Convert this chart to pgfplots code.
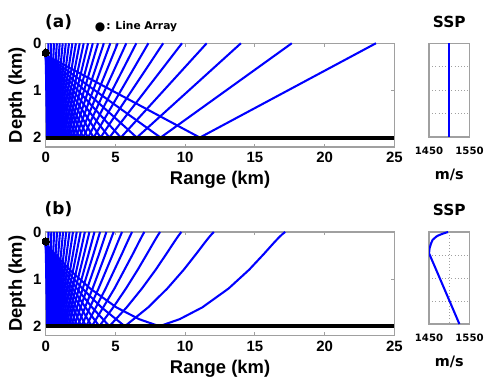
\documentclass[border=0pt]{standalone}
\usepackage{fontspec}
\setmainfont{Liberation Sans}
\newfontfamily\dv{DejaVu Sans}
\usepackage{pgfplots}
\pgfplotsset{compat=1.18}
\definecolor{axgray}{RGB}{160,160,160}
\definecolor{rayblue}{RGB}{0,0,255}
\pgfplotsset{
 ray/.style={rayblue, solid, mark=none, line width=1.55pt, line join=round},
 mainax/.style={scale only axis, width=261.5pt, xmin=0, xmax=25, ymin=0, ymax=2.2, y dir=reverse,
  xtick={0,5,10,15,20,25}, ytick={0,1,2},
  axis line style={axgray, line width=0.9pt}, tick style={axgray, line width=0.7pt},
  major tick length=2.5pt, tick align=inside,
  /pgf/number format/assume math mode=true,
  ticklabel style={font=\fontsize{11.2}{13}\selectfont\bfseries, inner sep=0pt},
  xticklabel style={anchor=north, yshift=-3.75pt},
  yticklabel style={anchor=east, xshift=-3pt},
  xlabel={Range (km)}, ylabel={Depth (km)},
  label style={font=\fontsize{13.8}{16}\selectfont\bfseries, inner sep=0pt},
  xlabel style={at={(axis description cs:0.5,-0.235)}, anchor=north},
  ylabel style={at={(axis description cs:-0.082,0.5)}, anchor=center},
  clip=false,
 },
 sspax/.style={scale only axis, width=30.4pt, xmin=1450, xmax=1550, ymin=0, ymax=2, y dir=reverse,
  xtick={1450,1500,1550}, xticklabels={1450,,1550}, ytick={0.5,1,1.5}, yticklabels={},
  grid=major, grid style={axgray, dotted, line width=0.5pt}, major tick length=0pt,
  axis line style={axgray, line width=0.9pt},
  xticklabel style={font=\dv\bfseries\fontsize{7.6}{9}\selectfont, inner sep=0pt, anchor=north, yshift=-7.2pt},
  title={SSP}, title style={at={(axis description cs:0.5,1)}, anchor=south, yshift=5.8pt, inner sep=0pt, font=\dv\bfseries\fontsize{11.5}{13}\selectfont},
  xlabel={m/s}, xlabel style={at={(axis description cs:0.5,0)}, anchor=north, yshift=-23.8pt, inner sep=0pt, font=\dv\bfseries\fontsize{10.8}{12}\selectfont},
 }
}
\begin{document}
\begin{tikzpicture}
\useasboundingbox (0,0) rectangle (363pt,285.75pt);
% ---------------- (a) isovelocity ----------------
\begin{axis}[mainax, height=77.8pt, at={(34.3pt,175.5pt)}, anchor=south west]
\addplot[ray] coordinates {(0,0.25)(11.049,2)(23.677,0)};
\addplot[ray] coordinates {(0,0.25)(8.233,2)(17.642,0)};
\addplot[ray] coordinates {(0,0.25)(6.531,2)(13.995,0)};
\addplot[ray] coordinates {(0,0.25)(5.386,2)(11.541,0)};
\addplot[ray] coordinates {(0,0.25)(4.559,2)(9.769,0)};
\addplot[ray] coordinates {(0,0.25)(3.931,2)(8.423,0)};
\addplot[ray] coordinates {(0,0.25)(3.435,2)(7.360,0)};
\addplot[ray] coordinates {(0,0.25)(3.031,2)(6.495,0)};
\addplot[ray] coordinates {(0,0.25)(2.695,2)(5.775,0)};
\addplot[ray] coordinates {(0,0.25)(2.409,2)(5.161,0)};
\addplot[ray] coordinates {(0,0.25)(2.161,2)(4.631,0)};
\addplot[ray] coordinates {(0,0.25)(1.944,2)(4.165,0)};
\addplot[ray] coordinates {(0,0.25)(1.750,2)(3.750,0)};
\addplot[ray] coordinates {(0,0.25)(1.576,2)(3.376,0)};
\addplot[ray] coordinates {(0,0.25)(1.417,2)(3.037,0)};
\addplot[ray] coordinates {(0,0.25)(1.271,2)(2.724,0)};
\addplot[ray] coordinates {(0,0.25)(1.136,2)(2.435,0)};
\addplot[ray] coordinates {(0,0.25)(1.010,2)(2.165,0)};
\addplot[ray] coordinates {(0,0.25)(0.892,2)(1.911,0)};
\addplot[ray] coordinates {(0,0.25)(0.779,2)(1.670,0)};
\addplot[ray] coordinates {(0,0.25)(0.672,2)(1.440,0)};
\addplot[ray] coordinates {(0,0.25)(0.569,2)(1.218,0)};
\addplot[ray] coordinates {(0,0.25)(0.469,2)(1.005,0)};
\addplot[ray] coordinates {(0,0.25)(0.372,2)(0.797,0)};
\addplot[ray] coordinates {(0,0.25)(0.277,2)(0.594,0)};
\addplot[ray] coordinates {(0,0.25)(0.184,2)(0.394,0)};
\addplot[ray] coordinates {(0,0.25)(0.092,2)(0.197,0)};
\addplot[black, line width=3pt] coordinates {(0,2)(25,2)};
\addplot[black, only marks, mark=*, mark size=2.8pt, line width=0pt] coordinates {(0,0.2)};
\end{axis}
\begin{axis}[sspax, height=70.3pt, at={(321.75pt,183pt)}, anchor=south west]
\addplot[ray] coordinates {(1500,0)(1500,2)};
\end{axis}
% ---------------- (b) refracting profile ----------------
\begin{axis}[mainax, height=77.77pt, at={(34.3pt,34pt)}, anchor=south west]
\addplot[ray] coordinates {(0,0.25)(0.635,0.46)(1.709,0.8)(3.187,1.2)(5.070,1.6)(6.696,1.85)(8.148,2)(9.600,1.85)(11.226,1.6)(13.109,1.2)(14.587,0.8)(15.661,0.46)(16.296,0.25)(16.546,0.17)(16.776,0.1)(16.956,0.05)(17.168,0)};
\addplot[ray] coordinates {(0,0.25)(0.540,0.46)(1.443,0.8)(2.627,1.2)(3.998,1.6)(5.671,2)(7.344,1.6)(8.715,1.2)(9.899,0.8)(10.802,0.46)(11.342,0.25)(11.553,0.17)(11.744,0.1)(11.890,0.05)(12.052,0)};
\addplot[ray] coordinates {(0,0.25)(0.467,0.46)(1.242,0.8)(2.231,1.2)(3.326,1.6)(4.564,2)(5.802,1.6)(6.897,1.2)(7.886,0.8)(8.661,0.46)(9.128,0.25)(9.309,0.17)(9.472,0.1)(9.594,0.05)(9.725,0)};
\addplot[ray] coordinates {(0,0.25)(0.409,0.46)(1.084,0.8)(1.930,1.2)(2.844,1.6)(3.841,2)(4.838,1.6)(5.752,1.2)(6.598,0.8)(7.273,0.46)(7.682,0.25)(7.840,0.17)(7.982,0.1)(8.087,0.05)(8.198,0)};
\addplot[ray] coordinates {(0,0.25)(0.361,0.46)(1.692,1.2)(3.310,2)(4.928,1.2)(6.259,0.46)(6.620,0.25)(6.882,0.1)(7.068,0)};
\addplot[ray] coordinates {(0,0.25)(0.322,0.46)(1.498,1.2)(2.896,2)(4.294,1.2)(5.470,0.46)(5.792,0.25)(6.026,0.1)(6.190,0)};
\addplot[ray] coordinates {(0,0.25)(0.288,0.46)(1.334,1.2)(2.559,2)(3.784,1.2)(4.830,0.46)(5.118,0.25)(5.327,0.1)(5.473,0)};
\addplot[ray] coordinates {(0,0.25)(0.258,0.46)(1.193,1.2)(2.276,2)(3.359,1.2)(4.294,0.46)(4.552,0.25)(4.739,0.1)(4.869,0)};
\addplot[ray] coordinates {(0,0.25)(0.233,0.46)(2.032,2)(3.831,0.46)(4.347,0)};
\addplot[ray] coordinates {(0,0.25)(0.209,0.46)(1.819,2)(3.429,0.46)(3.894,0)};
\addplot[ray] coordinates {(0,0.25)(0.189,0.46)(1.632,2)(3.076,0.46)(3.494,0)};
\addplot[ray] coordinates {(0,0.25)(0.170,0.46)(1.463,2)(2.757,0.46)(3.133,0)};
\addplot[ray] coordinates {(0,0.25)(0.152,0.46)(1.310,2)(2.468,0.46)(2.804,0)};
\addplot[ray] coordinates {(0,0.25)(0.136,0.46)(1.168,2)(2.200,0.46)(2.501,0)};
\addplot[ray] coordinates {(0,0.25)(0.121,0.46)(1.038,2)(1.955,0.46)(2.223,0)};
\addplot[ray] coordinates {(0,0.25)(0.107,0.46)(0.913,2)(1.719,0.46)(1.955,0)};
\addplot[ray] coordinates {(0,0.25)(0.093,0.46)(0.797,2)(1.501,0.46)(1.707,0)};
\addplot[ray] coordinates {(0,0.25)(0.080,0.46)(0.686,2)(1.292,0.46)(1.470,0)};
\addplot[ray] coordinates {(0,0.25)(0.068,0.46)(0.581,2)(1.095,0.46)(1.245,0)};
\addplot[ray] coordinates {(0,0.25)(0.056,0.46)(0.479,2)(0.901,0.46)(1.025,0)};
\addplot[ray] coordinates {(0,0.25)(0.045,0.46)(0.379,2)(0.714,0.46)(0.812,0)};
\addplot[ray] coordinates {(0,0.25)(0.033,0.46)(0.283,2)(0.532,0.46)(0.605,0)};
\addplot[ray] coordinates {(0,0.25)(0.022,0.46)(0.187,2)(0.353,0.46)(0.401,0)};
\addplot[ray] coordinates {(0,0.25)(0.011,0.46)(0.094,2)(0.176,0.46)(0.200,0)};
\addplot[black, line width=3pt] coordinates {(0,2)(25,2)};
\addplot[black, only marks, mark=*, mark size=2.8pt, line width=0pt] coordinates {(0,0.2)};
\end{axis}
\begin{axis}[sspax, height=69pt, at={(321.75pt,42.75pt)}, anchor=south west]
\addplot[ray] coordinates {(1497,0)(1488,0.025)(1480,0.05)(1473,0.075)(1468,0.1)(1459,0.17)(1455,0.25)(1451.5,0.35)(1450,0.46)(1525,2)};
\end{axis}
% ---------------- panel letters and legend ----------------
\node[font=\dv\bfseries\fontsize{12.7}{14}\selectfont, inner sep=0pt] at (43.9pt,268.9pt) {(a)};
\node[font=\dv\bfseries\fontsize{12.7}{14}\selectfont, inner sep=0pt] at (43.9pt,129pt) {(b)};
\node[font=\dv\fontsize{9}{10}\selectfont, inner sep=0pt] at (75pt,265.3pt) {●};
\node[font=\dv\bfseries\fontsize{8}{9.6}\selectfont, inner sep=0pt, anchor=base west] at (79.5pt,263.8pt) {: Line Array};
\end{tikzpicture}
\end{document}
